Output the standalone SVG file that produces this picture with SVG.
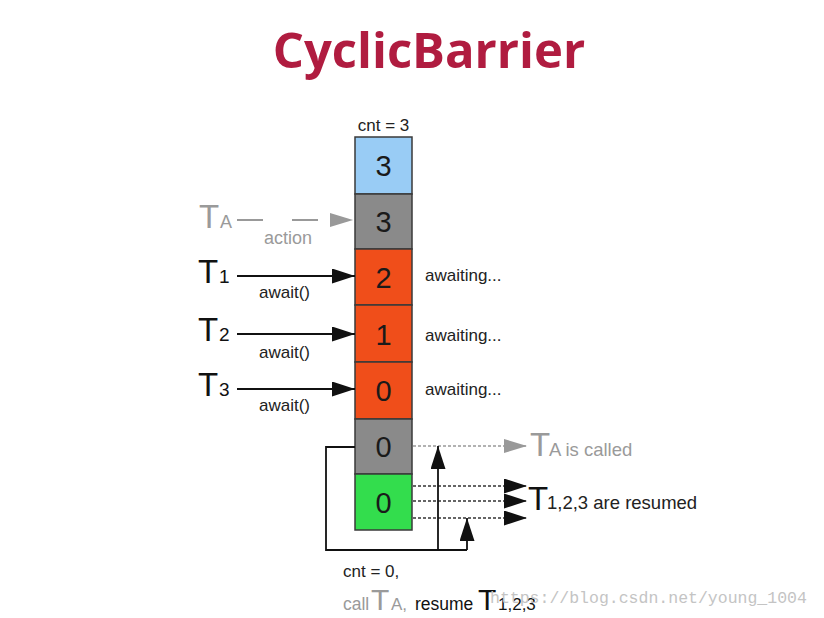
<svg xmlns="http://www.w3.org/2000/svg" width="824" height="618" viewBox="0 0 824 618">
<style>
text{font-family:"Liberation Sans",Arial,sans-serif}
.cell{stroke:#3a3a3a;stroke-width:1.5}
.num{font-size:29px;fill:#1a1a1a;text-anchor:middle}
.lbl{font-size:17px;fill:#222}
.big{font-size:33px}
.sub{font-size:19px}
.ln{stroke:#111;stroke-width:1.8;fill:none}
.dot{stroke:#333;stroke-width:1.5;stroke-dasharray:3,2;fill:none}
.gray{fill:#9a9a9a}
</style>
<defs>
<marker id="ab" markerUnits="userSpaceOnUse" markerWidth="24" markerHeight="16" refX="23" refY="7.5" orient="auto"><path d="M0,0 L23,7.5 L0,15 z" fill="#111"/></marker>
<marker id="ag" markerUnits="userSpaceOnUse" markerWidth="24" markerHeight="16" refX="23" refY="7" orient="auto"><path d="M0,0 L23,7 L0,14 z" fill="#999"/></marker>
</defs>
<rect width="824" height="618" fill="#fff"/>
<text x="429" y="68" text-anchor="middle" font-family="'Open Sans',sans-serif" font-weight="bold" font-size="49" fill="#b01c40" style="font-family:'Open Sans',sans-serif">CyclicBarrier</text>
<text x="383.5" y="131" class="lbl" text-anchor="middle" font-size="16.5">cnt = 3</text>
<g id="cell-blue"><rect class="cell" x="355" y="137" width="57" height="57" fill="#99ccf5"/><text class="num" x="383.5" y="176">3</text></g>
<g id="cell-gray1"><rect class="cell" x="355" y="194" width="57" height="55" fill="#8a8a8a"/><text class="num" x="383.5" y="232">3</text></g>
<g id="cell-o2"><rect class="cell" x="355" y="249" width="57" height="56" fill="#f04e1a"/><text class="num" x="383.5" y="288">2</text></g>
<g id="cell-o1"><rect class="cell" x="355" y="305" width="57" height="57" fill="#f04e1a"/><text class="num" x="383.5" y="345">1</text></g>
<g id="cell-o0"><rect class="cell" x="355" y="362" width="57" height="57" fill="#f04e1a"/><text class="num" x="383.5" y="401">0</text></g>
<g id="cell-gray0"><rect class="cell" x="355" y="419" width="57" height="55" fill="#8a8a8a"/><text class="num" x="383.5" y="457">0</text></g>
<g id="cell-green"><rect class="cell" x="355" y="474" width="57" height="56" fill="#33dd4d"/><text class="num" x="383.5" y="513">0</text></g>
<g id="TA-left"><text class="big gray" x="199" y="228">T</text><text class="gray" x="220" y="228" font-size="18">A</text><text class="gray" x="264" y="244" font-size="18">action</text></g>
<g id="T1"><text class="big" x="198" y="283" fill="#111">T</text><text class="sub" x="219" y="283" fill="#111">1</text><text class="lbl" x="259" y="298">await()</text><text class="lbl" x="425" y="281">awaiting...</text></g>
<g id="T2"><text class="big" x="198" y="341" fill="#111">T</text><text class="sub" x="219" y="341" fill="#111">2</text><text class="lbl" x="259" y="358">await()</text><text class="lbl" x="425" y="341">awaiting...</text></g>
<g id="T3"><text class="big" x="198" y="396" fill="#111">T</text><text class="sub" x="219" y="396" fill="#111">3</text><text class="lbl" x="259" y="411">await()</text><text class="lbl" x="425" y="395">awaiting...</text></g>
<g id="TA-called"><text class="big gray" x="530" y="456">T</text><text class="gray" x="549" y="456" font-size="18.5">A is called</text></g>
<g id="T-resumed"><text class="big" x="528" y="510" fill="#111" font-size="35">T</text><text x="547" y="509" font-size="18.5" fill="#222">1,2,3 are resumed</text></g>
<g id="bottom-note"><text class="lbl" x="343" y="577">cnt = 0,</text><text class="gray" x="343" y="610" font-size="17.5">call</text><text class="gray" x="371" y="610" font-size="30">T</text><text class="gray" x="391" y="610" font-size="17">A,</text><text x="415" y="610" font-size="17.5" fill="#111">resume</text><text x="478" y="610" font-size="30" fill="#111">T</text><text x="498" y="610" font-size="17" fill="#111">1,2,3</text></g>
<g id="connectors">
<path d="M237,220 H263 M292,220 H318" stroke="#999" stroke-width="1.8"/>
<line x1="330" y1="220" x2="353" y2="220" stroke="#999" stroke-width="0.1" marker-end="url(#ag)"/>
<line class="ln" x1="237" y1="276" x2="355" y2="276" marker-end="url(#ab)"/>
<line class="ln" x1="237" y1="334" x2="355" y2="334" marker-end="url(#ab)"/>
<line class="ln" x1="237" y1="389" x2="355" y2="389" marker-end="url(#ab)"/>
<line x1="413" y1="446" x2="527" y2="446" stroke="#999" stroke-width="1.5" stroke-dasharray="3,2" marker-end="url(#ag)"/>
<line class="dot" x1="413" y1="486" x2="527" y2="486" marker-end="url(#ab)"/>
<line class="dot" x1="413" y1="501" x2="527" y2="501" marker-end="url(#ab)"/>
<line class="dot" x1="413" y1="518" x2="527" y2="518" marker-end="url(#ab)"/>
<path class="ln" d="M355,447 H326 V550 H467"/>
<line class="ln" x1="438" y1="550" x2="438" y2="446" marker-end="url(#ab)"/>
<line class="ln" x1="467" y1="550" x2="467" y2="518" marker-end="url(#ab)"/>
</g>
<text x="490" y="603" font-family="'Liberation Mono',monospace" font-size="16.5" fill="#c4c4c4" style="font-family:'Liberation Mono',monospace">https://blog.csdn.net/young_1004</text>
</svg>
